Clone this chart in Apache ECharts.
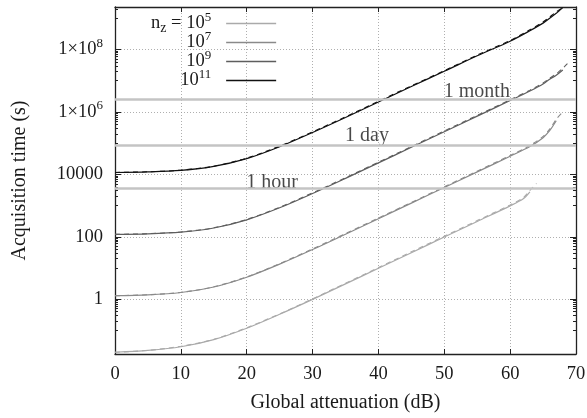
<!DOCTYPE html>
<html><head><meta charset="utf-8">
<script src="https://cdn.jsdelivr.net/npm/echarts@6/dist/echarts.min.js"></script>
<style>html,body{margin:0;padding:0;background:#fff}#c{width:587px;height:418px}</style>
</head><body><div id="c"></div>
<script>
// ---- data ----
const seriesNames = ['nz1e5', 'nz1e7', 'nz1e9', 'nz1e11'];
const legendExp = ['5', '7', '9', '11'];

const x1e5 = [0, 5, 10, 15, 20, 25, 30, 35, 40, 45, 50, 55, 60, 62, 63];
const y1e5 = [0.020, 0.023, 0.030, 0.051, 0.118, 0.33, 0.99, 3.1, 9.8, 31, 98, 310, 980, 1650, 2750];
const x1e5d = [0, 5, 10, 15, 20, 25, 30, 35, 40, 45, 50, 55, 60, 62, 63, 64];
const y1e5d = [0.020, 0.023, 0.031, 0.052, 0.122, 0.34, 1.03, 3.25, 10.3, 33, 104, 330, 1050, 1800, 3050, 5100];

const x1e7 = [0, 5, 10, 15, 20, 25, 30, 35, 40, 45, 50, 55, 60, 63, 65, 66, 67];
const y1e7 = [1.3, 1.38, 1.64, 2.46, 5.06, 13.3, 39, 121, 380, 1200, 3800, 1.2e4, 3.8e4, 7.8e4, 1.5e5, 2.5e5, 5.2e5];
const x1e7d = [0, 5, 10, 15, 20, 25, 30, 35, 40, 45, 50, 55, 60, 63, 65, 66, 67, 67.8];
const y1e7d = [1.3, 1.39, 1.66, 2.5, 5.2, 13.8, 41, 127, 400, 1260, 4000, 1.27e4, 4.05e4, 8.4e4, 1.65e5, 2.8e5, 5.8e5, 9.0e5];

const x1e9 = [0, 5, 10, 15, 20, 25, 30, 35, 40, 45, 50, 55, 60, 63, 65, 66, 67, 68];
const y1e9 = [120, 125, 141, 191, 350, 850, 2440, 7450, 2.33e4, 7.35e4, 2.32e5, 7.34e5, 2.32e6, 4.7e6, 7.9e6, 1.12e7, 1.5e7, 2.2e7];
const x1e9d = [0, 5, 10, 15, 20, 25, 30, 35, 40, 45, 50, 55, 60, 63, 65, 66, 67, 68, 68.7];
const y1e9d = [120, 126, 143, 195, 360, 880, 2550, 7800, 2.45e4, 7.75e4, 2.45e5, 7.75e5, 2.45e6, 5.0e6, 8.5e6, 1.2e7, 1.65e7, 2.5e7, 3.5e7];

const x1e11 = [0, 5, 10, 15, 20, 25, 30, 35, 40, 45, 50, 55, 60, 63, 65, 66, 67, 68];
const y1e11 = [1.15e4, 1.2e4, 1.34e4, 1.8e4, 3.2e4, 7.7e4, 2.2e5, 6.65e5, 2.08e6, 6.55e6, 2.0e7, 6.3e7, 1.85e8, 4.0e8, 7.0e8, 1.0e9, 1.45e9, 2.2e9];
const x1e11d = [0, 5, 10, 15, 20, 25, 30, 35, 40, 45, 50, 55, 60, 63, 65, 66, 67, 68.3];
const y1e11d = [1.15e4, 1.21e4, 1.36e4, 1.83e4, 3.3e4, 8.0e4, 2.3e5, 6.95e5, 2.18e6, 6.85e6, 2.1e7, 6.6e7, 1.95e8, 4.3e8, 7.6e8, 1.1e9, 1.6e9, 2.4e9];

const refNames = ['1 hour', '1 day', '1 month'];
const refValues = [3600, 86400, 2592000];
const refLabelX = [20, 35, 50];

const xTicks = [0, 10, 20, 30, 40, 50, 60, 70];
const yMajor = [1, 100, 1e4, 1e6, 1e8];
const yMin = 0.0176, yMax = 2.3e9;

// minor ticks: 1..9 x 10^(k-1) below each major (k step 2)
const yMinor = [];
[1, 100, 1e4, 1e6, 1e8, 1e10].forEach(m => { for (let i = 1; i <= 9; i++) { const v = m / 10 * i; if (v > yMin && v < yMax) yMinor.push(v); } });

const colors = ['#aaaaaa', '#8a8a8a', '#5e5e5e', '#111111'];
const FONT = '"Liberation Serif", "Times New Roman", serif';
const TXT = '#1a1a1a';
const NUM = 18.5, WORD = 20;

const zip = (xs, ys) => xs.map((x, i) => [x, ys[i]]);
const solid = [zip(x1e5, y1e5), zip(x1e7, y1e7), zip(x1e9, y1e9), zip(x1e11, y1e11)];
const dashed = [zip(x1e5d, y1e5d), zip(x1e7d, y1e7d), zip(x1e9d, y1e9d), zip(x1e11d, y1e11d)];

const supRich = {
  b: { fontSize: NUM, fontFamily: FONT, color: TXT, lineHeight: 18 },
  s: { fontSize: 13, fontFamily: FONT, color: TXT, lineHeight: 18, padding: [0, 0, 12, 0] },
  z: { fontSize: 14, fontFamily: FONT, color: TXT, lineHeight: 18, padding: [10, 0, 0, 0] }
};

const chart = echarts.init(document.getElementById('c'), null, { renderer: 'canvas' });

const series = [];
// reference lines + labels
series.push({
  type: 'scatter', xAxisIndex: 0, yAxisIndex: 0, z: 1,
  symbolSize: 1, itemStyle: { color: 'rgba(0,0,0,0)' }, silent: true,
  data: refNames.map((n, i) => ({ value: [refLabelX[i], refValues[i]], name: n,
    label: { offset: [0, [5, 1, 3][i]] } })),
  label: { show: true, formatter: p => p.name, position: [0, 0], align: 'left', verticalAlign: 'bottom',
    fontSize: WORD, fontFamily: FONT, color: TXT, lineHeight: 20 },
  markLine: { silent: true, symbol: ['none', 'none'], label: { show: false },
    lineStyle: { color: '#c4c4c4', width: 2.5, type: 'solid' },
    emphasis: { disabled: true },
    data: refValues.map(v => ({ yAxis: v })) }
});
for (let i = 0; i < 4; i++) {
  series.push({ name: seriesNames[i], type: 'line', data: solid[i], showSymbol: false, symbol: 'none', smooth: 0.3,
    lineStyle: { color: colors[i], width: 1.2 }, itemStyle: { color: colors[i] }, z: 3, silent: true });
  series.push({ name: seriesNames[i] + '_approx', type: 'line', data: dashed[i], showSymbol: false, symbol: 'none', smooth: 0.3,
    lineStyle: { color: colors[i], width: 1.1, type: [5, 4] }, itemStyle: { color: colors[i] }, z: 3, silent: true });
}

const yBase = { type: 'log', logBase: 10, min: yMin, max: yMax };
const option = {
  backgroundColor: '#fff',
  animation: false,
  grid: { left: 115, top: 7, width: 461, height: 347, outerBoundsMode: 'none', containLabel: false },
  legend: {
    data: seriesNames, orient: 'vertical', left: 151, top: 11, padding: 0, itemGap: -6,
    align: 'right', icon: 'rect', itemWidth: 50, itemHeight: 1.5, selectedMode: false,
    formatter: name => {
      const i = seriesNames.indexOf(name);
      return i === 0 ? '{b|n}{z|z}{b| = 10}{s|' + legendExp[i] + '}' : '{b|10}{s|' + legendExp[i] + '}';
    },
    textStyle: { width: 80, padding: [0, 10, 0, 0], fontFamily: FONT, fontSize: NUM, color: TXT, rich: supRich }
  },
  xAxis: [{
    type: 'value', min: 0, max: 70, interval: 10, position: 'bottom',
    name: 'Global attenuation (dB)', nameLocation: 'middle', nameGap: 39,
    nameTextStyle: { fontFamily: FONT, fontSize: WORD, color: TXT },
    axisLine: { show: true, lineStyle: { color: '#222', width: 1.3 } },
    axisTick: { show: true, inside: true, length: 5, lineStyle: { color: '#222' } },
    axisLabel: { fontFamily: FONT, fontSize: NUM, color: TXT, margin: 11 },
    splitLine: { show: true, lineStyle: { color: '#9a9a9a', width: 0.8, type: [1, 2] } }
  }, {
    type: 'value', min: 0, max: 70, interval: 10, position: 'top',
    axisLine: { show: true, lineStyle: { color: '#222', width: 1.3 } },
    axisTick: { show: true, inside: true, length: 5, lineStyle: { color: '#222' } },
    axisLabel: { show: false }, splitLine: { show: false }
  }],
  yAxis: [Object.assign({}, yBase, {
    position: 'left',
    name: 'Acquisition time (s)', nameLocation: 'middle', nameGap: 85, nameRotate: 90,
    nameTextStyle: { fontFamily: FONT, fontSize: WORD, color: TXT },
    axisLine: { show: true, lineStyle: { color: '#222', width: 1.3 } },
    axisTick: { show: true, inside: true, length: 6, customValues: yMajor, lineStyle: { color: '#222' } },
    axisLabel: { customValues: yMajor, margin: 12, fontFamily: FONT, fontSize: NUM, color: TXT, rich: supRich,
      formatter: v => { const e = Math.round(Math.log10(v)); return e >= 6 ? '{b|1×10}{s|' + e + '}' : '{b|' + Math.round(v) + '}'; } },
    splitLine: { show: true, lineStyle: { color: '#9a9a9a', width: 0.8, type: [1, 2] } }
  }), Object.assign({}, yBase, {
    position: 'left', axisLine: { show: false },
    axisTick: { show: true, inside: true, length: 3, customValues: yMinor, lineStyle: { color: '#222' } },
    axisLabel: { show: false }, splitLine: { show: false }
  }), Object.assign({}, yBase, {
    position: 'right', axisLine: { show: true, lineStyle: { color: '#222', width: 1.3 } },
    axisTick: { show: true, inside: true, length: 6, customValues: yMajor, lineStyle: { color: '#222' } },
    axisLabel: { show: false }, splitLine: { show: false }
  }), Object.assign({}, yBase, {
    position: 'right', axisLine: { show: false },
    axisTick: { show: true, inside: true, length: 3, customValues: yMinor, lineStyle: { color: '#222' } },
    axisLabel: { show: false }, splitLine: { show: false }
  })],
  series: series
};
chart.setOption(option);
</script>
</body></html>
